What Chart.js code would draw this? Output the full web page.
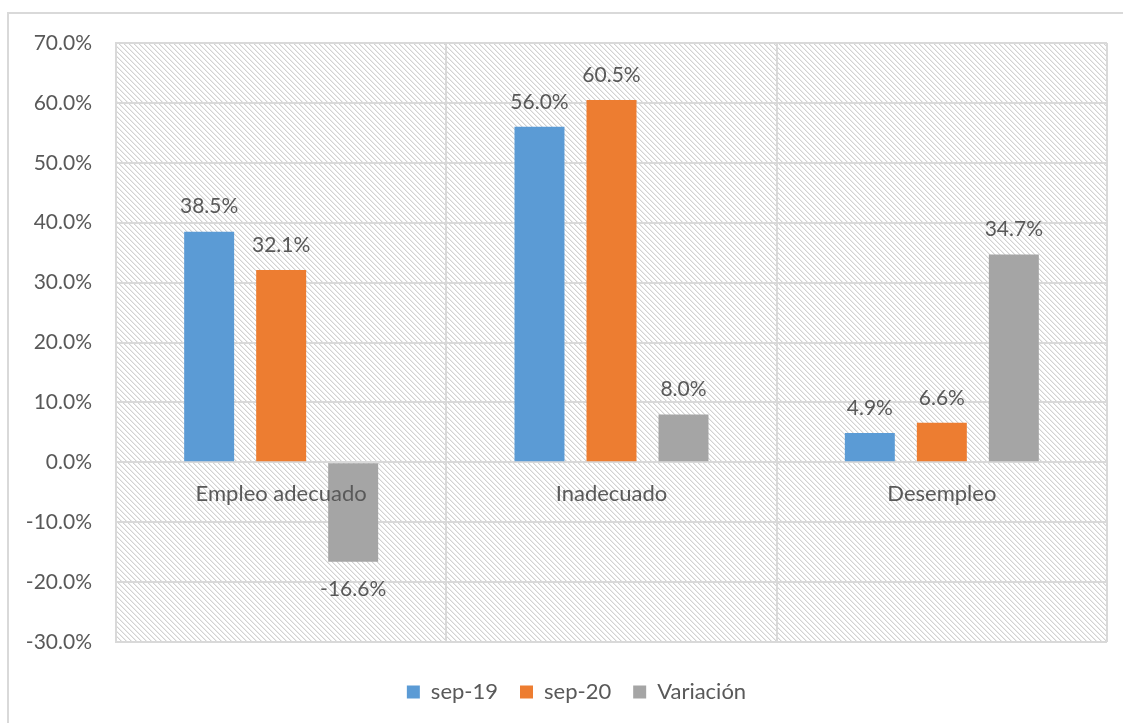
<!DOCTYPE html>
<html>
<head>
<meta charset="utf-8">
<script src="https://cdn.jsdelivr.net/npm/chart.js@4/dist/chart.umd.min.js"></script>
<style>
  html, body { margin: 0; padding: 0; background: #ffffff; overflow: hidden; }
  #frame { position: absolute; left: 7px; top: 12px; width: 1140px; height: 740px; border: 2px solid #d9d9d9; box-sizing: border-box; }
  #wrap { position: absolute; left: 0; top: 0; width: 1123px; height: 723px; }
</style>
</head>
<body>
<div id="frame"></div>
<div id="wrap"><canvas id="c"></canvas></div>
<script>
const categories = ['Empleo adecuado', 'Inadecuado', 'Desempleo'];
const seriesNames = ['sep-19', 'sep-20', 'Variación'];
const sep19 = [38.5, 56.0, 4.9];
const sep20 = [32.1, 60.5, 6.6];
const variacion = [-16.6, 8.0, 34.7];
const yTicks = [-30, -20, -10, 0, 10, 20, 30, 40, 50, 60, 70];

const TEXT = '#595959';
const GRID = '#d9d9d9';
const FONT = "Lato, 'Open Sans', sans-serif";
const FS = 21;
const FS_CAT = 22;

function makeHatch() {
  const p = document.createElement('canvas');
  const n = 5;
  p.width = n; p.height = n;
  const g = p.getContext('2d');
  g.fillStyle = '#ffffff';
  g.fillRect(0, 0, n, n);
  for (let y = 0; y < n; y++) {
    for (let x = 0; x < n; x++) {
      const d = ((x - y) % n + n) % n;
      if (d === 0) { g.fillStyle = '#d2d2d2'; g.fillRect(x, y, 1, 1); }
      else if (d === 1) { g.fillStyle = '#ececec'; g.fillRect(x, y, 1, 1); }
    }
  }
  return p;
}

const hatchPlugin = {
  id: 'hatch',
  beforeDraw(chart) {
    const {ctx, chartArea} = chart;
    ctx.save();
    ctx.fillStyle = ctx.createPattern(makeHatch(), 'repeat');
    ctx.fillRect(chartArea.left, chartArea.top, chartArea.right - chartArea.left, chartArea.bottom - chartArea.top);
    ctx.restore();
  }
};

const labelPlugin = {
  id: 'valueLabels',
  afterDatasetsDraw(chart) {
    const {ctx} = chart;
    ctx.save();
    ctx.font = FS + 'px ' + FONT;
    ctx.fillStyle = TEXT;
    ctx.textAlign = 'center';
    ctx.textBaseline = 'middle';
    chart.data.datasets.forEach((ds, i) => {
      const meta = chart.getDatasetMeta(i);
      meta.data.forEach((el, j) => {
        const v = ds.data[j];
        const y = v >= 0 ? el.y - 25 : el.y + 28;
        ctx.fillText(v.toFixed(1) + '%', el.x, y);
      });
    });
    ctx.restore();
  }
};

// centre the legend under the whole frame (as in the source) rather than the canvas
const legendShift = {
  id: 'legendShift',
  afterLayout(chart) {
    if (chart.legend) { chart.legend.left += 28; }
  }
};

new Chart(document.getElementById('c'), {
  type: 'bar',
  data: {
    labels: categories,
    datasets: [
      { label: seriesNames[0], data: sep19, backgroundColor: '#5B9BD5' },
      { label: seriesNames[1], data: sep20, backgroundColor: '#ED7D31' },
      { label: seriesNames[2], data: variacion, backgroundColor: '#A5A5A5' }
    ]
  },
  options: {
    responsive: true,
    maintainAspectRatio: false,
    animation: false,
    categoryPercentage: 0.654,
    barPercentage: 0.694,
    layout: { padding: { top: 43, right: 16, bottom: 10, left: 18 } },
    scales: {
      x: {
        position: { y: 0 },
        offset: true,
        grid: { display: true, offset: true, color: GRID, lineWidth: 2, drawTicks: false },
        border: { display: true, color: GRID, width: 2 },
        ticks: { color: TEXT, font: { family: FONT, size: FS_CAT }, padding: 18, z: 1 }
      },
      y: {
        min: -30,
        max: 70,
        afterBuildTicks(scale) { scale.ticks = yTicks.map(v => ({ value: v })); },
        afterFit(scale) { scale.width = 98; },
        grid: { color: GRID, lineWidth: 2, drawTicks: false },
        border: { display: true, color: GRID, width: 2 },
        ticks: {
          color: TEXT,
          font: { family: FONT, size: FS },
          padding: 24,
          callback: v => Number(v).toFixed(1) + '%'
        }
      }
    },
    plugins: {
      legend: {
        position: 'bottom',
        title: { display: true, text: '', font: { size: 10, lineHeight: 1.7 }, padding: 0 },
        labels: {
          color: TEXT,
          font: { family: FONT, size: FS_CAT },
          boxWidth: 13,
          boxHeight: 13,
          padding: 22
        }
      },
      tooltip: { enabled: false }
    }
  },
  plugins: [hatchPlugin, labelPlugin, legendShift]
});
</script>
</body>
</html>
